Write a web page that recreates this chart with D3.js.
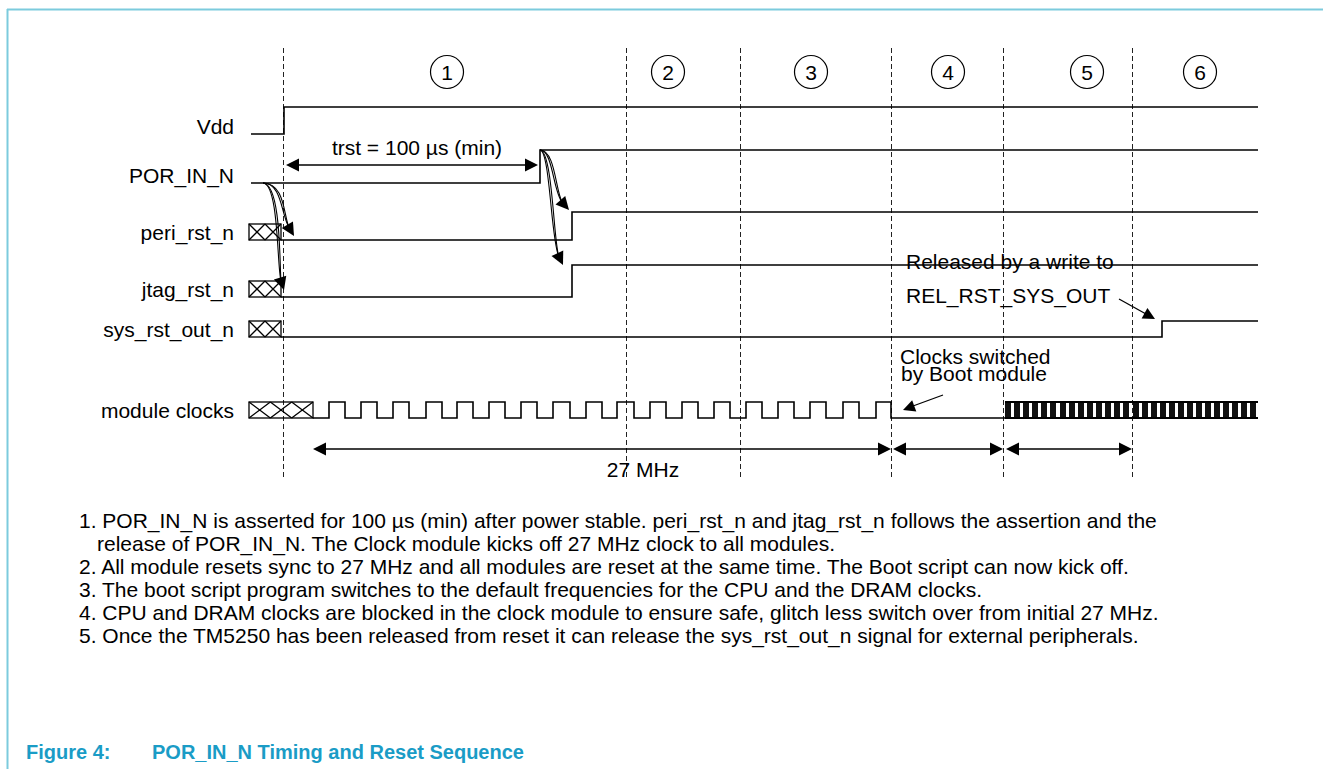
<!DOCTYPE html>
<html><head><meta charset="utf-8">
<script src="https://cdn.jsdelivr.net/npm/d3@7"></script>
<style>
body{margin:0;background:#fff;}
svg{display:block;font-family:"Liberation Sans",Arial,Helvetica,sans-serif;}
</style>
</head><body>
<svg id="chart" width="1323" height="769"></svg>
<script>
// ---------------- DATA ----------------
const phaseBounds  = [283, 626, 740, 891, 1003, 1132];
const phaseLabels  = ["1", "2", "3", "4", "5", "6"];
const phaseCenters = [447, 668, 811, 948, 1087, 1200];

const signalNames = ["Vdd", "POR_IN_N", "peri_rst_n", "jtag_rst_n", "sys_rst_out_n", "module clocks"];

// step waveforms: [time, level]
const vddSteps  = [[251, 0], [284, 1], [1258, 1]];
const porSteps  = [[251, 0], [540, 1], [1258, 1]];
const periSteps = [[281, 0], [572, 1], [1258, 1]];
const jtagSteps = [[281, 0], [572, 1], [1258, 1]];
const sysSteps  = [[281, 0], [1162, 1], [1258, 1]];

// unknown (hatched) regions: [signal, start, end, cells]
const unknownSpans = [
  ["peri_rst_n", 249, 281, 2],
  ["jtag_rst_n", 249, 281, 2],
  ["sys_rst_out_n", 249, 281, 2],
  ["module clocks", 249, 313, 3]
];

// 27 MHz clock pulses [rise, fall]
const clockPulses = [
  [329, 345], [361, 377], [393, 409], [426, 442], [457, 473], [489, 505],
  [521, 537], [553, 570], [586, 602], [617, 634], [650, 666], [682, 698],
  [714, 730], [746, 762], [778, 794], [810, 826], [843, 859], [876, 891]
];
const clockStart = 313, clockLowEnd = 1005, clockEnd = 1258;
// fast clock rising edges after switch-over
const fastEdges = [1005, 1014, 1023, 1032, 1041, 1050, 1060, 1069, 1078, 1087,
  1096, 1105, 1114, 1123, 1133, 1142, 1151, 1160, 1169, 1178, 1187, 1196,
  1205, 1214, 1223, 1232, 1241, 1250];

// dimension arrows [from, to, label]
const dimArrows = [[313, 891, "27 MHz"], [893, 1003, ""], [1006, 1132, ""]];
const trstArrow = [286, 538, "trst = 100 \u00b5s (min)"];

const notes = [
  ["1.", "POR_IN_N is asserted for 100 \u00b5s (min) after power stable. peri_rst_n and jtag_rst_n follows the assertion and the"],
  ["", "release of POR_IN_N. The Clock module kicks off 27 MHz clock to all modules."],
  ["2.", "All module resets sync to 27 MHz and all modules are reset at the same time. The Boot script can now kick off."],
  ["3.", "The boot script program switches to the default frequencies for the CPU and the DRAM clocks."],
  ["4.", "CPU and DRAM clocks are blocked in the clock module to ensure safe, glitch less switch over from initial 27 MHz."],
  ["5.", "Once the TM5250 has been released from reset it can release the sys_rst_out_n signal for external peripherals."]
];
const captionNum = "Figure 4:";
const captionText = "POR_IN_N Timing and Reset Sequence";

// ---------------- LAYOUT ----------------
const rowLevels = { // [lowY, highY]
  "Vdd": [134, 107],
  "POR_IN_N": [183, 150],
  "peri_rst_n": [240, 212],
  "jtag_rst_n": [297, 265],
  "sys_rst_out_n": [337, 321],
  "module clocks": [418, 402]
};
const FS = 21;

const svg = d3.select("#chart");
const x = d3.scaleLinear().domain([0, 1323]).range([0, 1323]);
const yOf = name => d3.scaleLinear().domain([0, 1]).range(rowLevels[name]);

// frame
svg.append("line").attr("x1", 7).attr("x2", 1323).attr("y1", 9.5).attr("y2", 9.5)
  .attr("stroke", "#7ccbdd").attr("stroke-width", 2);
svg.append("line").attr("x1", 7.5).attr("x2", 7.5).attr("y1", 9).attr("y2", 769)
  .attr("stroke", "#7ccbdd").attr("stroke-width", 2);

// arrowhead helper
function head(g, tx, ty, dx, dy, len = 13, half = 6.5) {
  const L = Math.hypot(dx, dy), ux = dx / L, uy = dy / L;
  const bx = tx - ux * len, by = ty - uy * len;
  const px = -uy * half, py = ux * half;
  g.append("path").attr("d", `M${tx},${ty}L${bx + px},${by + py}L${bx - px},${by - py}Z`)
    .attr("fill", "#000");
}

// dashed phase lines
svg.append("g").selectAll("line").data(phaseBounds).join("line")
  .attr("x1", d => x(d) + 0.5).attr("x2", d => x(d) + 0.5)
  .attr("y1", 48).attr("y2", 477)
  .attr("stroke", "#222").attr("stroke-width", 1).attr("stroke-dasharray", "5,3");

// phase circles
const pg = svg.append("g").selectAll("g").data(phaseLabels).join("g")
  .attr("transform", (d, i) => `translate(${x(phaseCenters[i])},72)`);
pg.append("circle").attr("r", 16.5).attr("fill", "#fff").attr("stroke", "#000").attr("stroke-width", 1.2);
pg.append("text").attr("text-anchor", "middle").attr("y", 7.5).attr("font-size", FS).text(d => d);

// signal labels
svg.append("g").selectAll("text").data(signalNames).join("text")
  .attr("x", 234).attr("y", d => rowLevels[d][0] - 0.5)
  .attr("text-anchor", "end").attr("font-size", FS).text(d => d);

// step waveforms
const stepData = [["Vdd", vddSteps], ["POR_IN_N", porSteps], ["peri_rst_n", periSteps],
  ["jtag_rst_n", jtagSteps], ["sys_rst_out_n", sysSteps]];
stepData.forEach(([name, steps]) => {
  const y = yOf(name);
  const line = d3.line().x(d => x(d[0])).y(d => y(d[1])).curve(d3.curveStepAfter);
  svg.append("path").attr("d", line(steps)).attr("fill", "none")
    .attr("stroke", "#000").attr("stroke-width", 1.6);
});

// 27 MHz clock + low gap
{
  const y = yOf("module clocks");
  const pts = [[clockStart, 0]];
  clockPulses.forEach(([r, f]) => { pts.push([r, 1]); pts.push([f, 0]); });
  pts.push([clockLowEnd, 0]);
  const line = d3.line().x(d => x(d[0])).y(d => y(d[1])).curve(d3.curveStepAfter);
  svg.append("path").attr("d", line(pts)).attr("fill", "none")
    .attr("stroke", "#000").attr("stroke-width", 1.6);
  // fast clock
  const fg = svg.append("g");
  fg.selectAll("rect").data(fastEdges).join("rect")
    .attr("x", d => x(d)).attr("y", y(1)).attr("width", 6).attr("height", y(0) - y(1))
    .attr("fill", "#111");
  fg.append("line").attr("x1", x(fastEdges[0])).attr("x2", x(clockEnd)).attr("y1", y(1)).attr("y2", y(1))
    .attr("stroke", "#000").attr("stroke-width", 2);
  fg.append("line").attr("x1", x(fastEdges[0])).attr("x2", x(clockEnd)).attr("y1", y(0)).attr("y2", y(0))
    .attr("stroke", "#000").attr("stroke-width", 2);
}

// hatched unknown spans
unknownSpans.forEach(([name, s, e, n]) => {
  const y = yOf(name), y0 = y(0), y1 = y(0) - 16;
  const g = svg.append("g").attr("stroke", "#000").attr("stroke-width", 1.3).attr("fill", "none");
  g.append("rect").attr("x", x(s)).attr("y", y1).attr("width", x(e) - x(s)).attr("height", y0 - y1);
  const w = (x(e) - x(s)) / n;
  d3.range(n).forEach(i => {
    const a = x(s) + i * w;
    g.append("path").attr("d", `M${a},${y1}L${a + w},${y0}M${a},${y0}L${a + w},${y1}`);
  });
});

// trst arrow
{
  const g = svg.append("g");
  const yA = 165;
  g.append("line").attr("x1", x(trstArrow[0]) + 10).attr("x2", x(trstArrow[1]) - 10)
    .attr("y1", yA).attr("y2", yA).attr("stroke", "#000").attr("stroke-width", 1.5);
  head(g, x(trstArrow[0]), yA, -1, 0);
  head(g, x(trstArrow[1]), yA, 1, 0);
  g.append("text").attr("x", 417).attr("y", 155).attr("text-anchor", "middle")
    .attr("font-size", FS).text(trstArrow[2]);
}

// dimension arrows
{
  const g = svg.append("g");
  const yA = 449;
  dimArrows.forEach(([a, b, lbl]) => {
    g.append("line").attr("x1", x(a) + 10).attr("x2", x(b) - 10).attr("y1", yA).attr("y2", yA)
      .attr("stroke", "#000").attr("stroke-width", 1.5);
    head(g, x(a), yA, -1, 0);
    head(g, x(b), yA, 1, 0);
    if (lbl) g.append("text").attr("x", 643).attr("y", 477).attr("text-anchor", "middle")
      .attr("font-size", FS).text(lbl);
  });
}

// causal curves
{
  const g = svg.append("g");
  const curves = [
    [[263, 183], [282, 183], [281, 214], [294, 236]],
    [[263, 183], [279, 184], [277, 268], [284, 290]],
    [[540, 150], [553, 150], [553, 192], [569, 210]],
    [[540, 150], [550, 151], [551, 240], [563, 265]]
  ];
  curves.forEach(([s, c1, c2, t]) => {
    const dx = t[0] - c2[0], dy = t[1] - c2[1], L = Math.hypot(dx, dy);
    const ex = t[0] - dx / L * 10, ey = t[1] - dy / L * 10;
    [0, 2.5].forEach(off => {
      g.append("path")
        .attr("d", `M${s[0]},${s[1]}C${c1[0] + off},${c1[1]} ${c2[0] + off},${c2[1]} ${ex},${ey}`)
        .attr("fill", "none").attr("stroke", "#000").attr("stroke-width", 1.1);
    });
    head(g, t[0], t[1], dx, dy, 13, 6.5);
  });
}

// annotations
{
  const g = svg.append("g").attr("font-size", FS);
  g.append("text").attr("x", 906).attr("y", 269).text("Released by a write to");
  g.append("text").attr("x", 906).attr("y", 303).text("REL_RST_SYS_OUT");
  g.append("line").attr("x1", 1119).attr("y1", 299).attr("x2", 1146).attr("y2", 314)
    .attr("stroke", "#000").attr("stroke-width", 1.3);
  head(g, 1155, 319, 36, 20, 12, 6);
  g.append("text").attr("x", 900).attr("y", 364).text("Clocks switched");
  g.append("text").attr("x", 901).attr("y", 381).text("by Boot module");
  g.append("line").attr("x1", 943).attr("y1", 395).attr("x2", 913).attr("y2", 406)
    .attr("stroke", "#000").attr("stroke-width", 1.3);
  head(g, 903, 410, -40, 15, 12, 6);
}

// notes
{
  const g = svg.append("g").attr("font-size", 21).attr("fill", "#000");
  const base = 528, step = 23;
  notes.forEach(([num, txt], i) => {
    const y = base + i * step;
    if (num) g.append("text").attr("x", 79).attr("y", y).text(num + " " + txt);
    else g.append("text").attr("x", 97).attr("y", y).text(txt);
  });
}

// caption
{
  const g = svg.append("g").attr("font-size", 20).attr("font-weight", "bold").attr("fill", "#1a9cc6");
  g.append("text").attr("x", 26).attr("y", 759).text(captionNum);
  g.append("text").attr("x", 152).attr("y", 759).text(captionText);
}
</script>
</body></html>
